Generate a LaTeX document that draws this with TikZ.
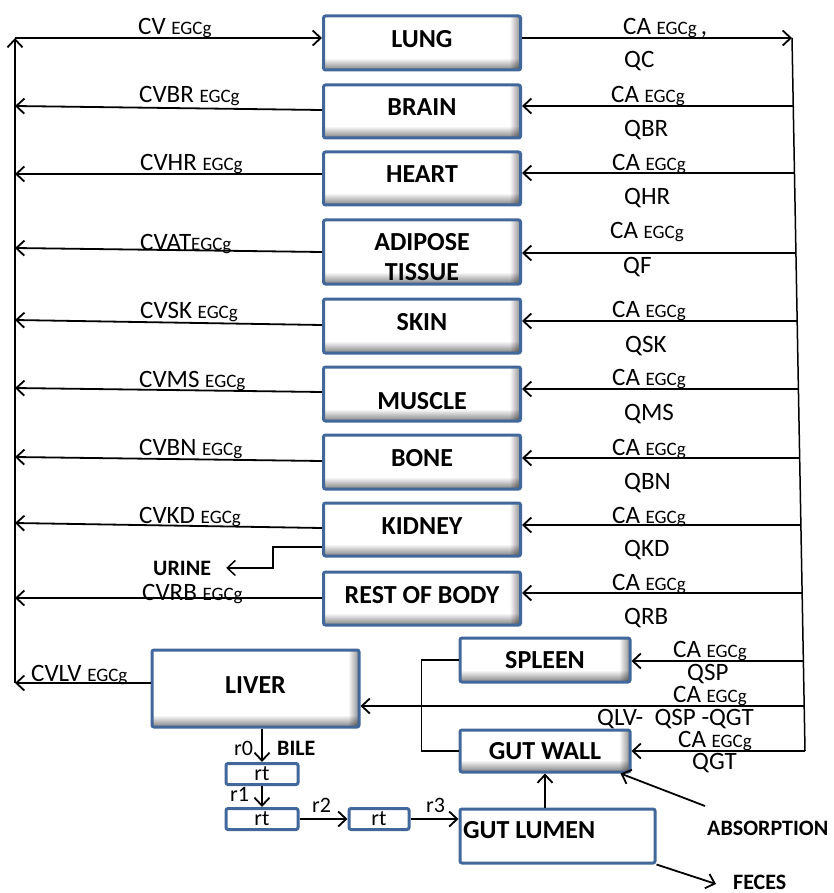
\documentclass[tikz,border=0pt]{standalone}
\usepackage{fontspec}
\setmainfont{Carlito}
\usetikzlibrary{arrows.meta}
\definecolor{boxblue}{HTML}{41679B}
\newcommand\eg{{\fontsize{19}{20}\selectfont EGCg}}
\begin{document}
\begin{tikzpicture}[x=1pt,y=-1pt,font=\fontsize{25}{28}\selectfont,
  organbase/.style={draw=boxblue,line width=3pt,rounded corners=2pt,fill=white,inner sep=0pt,
    font=\fontsize{26}{30}\selectfont\bfseries,
    path picture={
      \begin{scope}[blend mode=multiply]
      \shade[top color=white,bottom color=black!50] ([yshift=12pt]path picture bounding box.south west) rectangle (path picture bounding box.south east);
      \shade[left color=white,right color=black!45] ([xshift=-11pt]path picture bounding box.north east) rectangle (path picture bounding box.south east);
      \end{scope}}},
  organ/.style={organbase,text height=16pt,text depth=7pt},
  plainbox/.style={draw=boxblue,line width=3pt,rounded corners=2pt,fill=white,inner sep=0pt},
  conn/.style={line width=1.8pt,-{Straight Barb[length=8pt,width=15pt]}},
  link/.style={line width=1.8pt},
  lab/.style={anchor=base west,inner sep=0pt},
  blab/.style={lab,font=\fontsize{22}{24}\selectfont\bfseries},
  slab/.style={lab,font=\fontsize{22}{24}\selectfont}]
\useasboundingbox (0,0) rectangle (834,893);

% organ boxes
\node[organ,minimum width=197pt,minimum height=54pt] (lung) at (422,43) {LUNG};
\node[organ,minimum width=197pt,minimum height=53pt] (brain) at (422,111.5) {BRAIN};
\node[organ,minimum width=197pt,minimum height=53pt] (heart) at (422,178.5) {HEART};
\node[organbase,minimum width=197pt,minimum height=64pt,align=center,text height=60pt,text depth=3pt] (adipose) at (422,252) {ADIPOSE\\TISSUE};
\node[organ,minimum width=197pt,minimum height=54pt] (skin) at (422,326) {SKIN};
\node[organ,minimum width=197pt,minimum height=54pt] (muscle) at (422,394) {\raisebox{-10.5pt}{MUSCLE}};
\node[organ,minimum width=197pt,minimum height=54pt] (bone) at (422,462) {BONE};
\node[organ,minimum width=197pt,minimum height=53pt] (kidney) at (422,529.5) {KIDNEY};
\node[organ,minimum width=197pt,minimum height=53pt] (rest) at (422,598.5) {REST OF BODY};
\node[organ,minimum width=207pt,minimum height=77pt] (liver) at (255.5,688.5) {LIVER\hspace{16pt}};
\node[organbase,minimum width=170pt,minimum height=44pt] (spleen) at (545,660) {SPLEEN\hspace{20pt}};
\node[organbase,minimum width=170pt,minimum height=42pt] (gutwall) at (545,751) {GUT WALL\hspace{10pt}};
\node[plainbox,minimum width=195pt,minimum height=54pt,font=\fontsize{26}{30}\selectfont\bfseries,text height=16pt,text depth=7pt] (lumen) at (557.5,836) {\raisebox{2.5pt}{\makebox[189pt][l]{GUT LUMEN}}};
\node[plainbox,minimum width=72pt,minimum height=21pt,font=\fontsize{22}{24}\selectfont] (rt1) at (262,774) {rt};
\node[plainbox,minimum width=72pt,minimum height=21pt,font=\fontsize{22}{24}\selectfont] (rt2) at (262,819) {rt};
\node[plainbox,minimum width=60pt,minimum height=21pt,font=\fontsize{22}{24}\selectfont] (rt3) at (379,819) {rt};

% left venous line
\coordinate (LT) at (15,38);
\coordinate (LB) at (15,683);
\coordinate (lBR) at (15,106);
\coordinate (lHR) at (15,174);
\coordinate (lAT) at (15,248);
\coordinate (lSK) at (15,320);
\coordinate (lMS) at (15,388);
\coordinate (lBN) at (15,457);
\coordinate (lKD) at (15,523);
\coordinate (lRB) at (15,598);
\draw[conn] (LB) -- (LT);
\draw[conn] (LT) -- (lung.west |- LT);
\draw[conn] ([yshift=1.5pt]brain.west) -- (lBR);
\draw[conn] ([yshift=4.5pt]heart.west) -- (lHR);
\draw[conn] (adipose.west) -- (lAT);
\draw[conn] ([yshift=1pt]skin.west) -- (lSK);
\draw[conn] ([yshift=2pt]muscle.west) -- (lMS);
\draw[conn] ([yshift=1pt]bone.west) -- (lBN);
\draw[conn] ([yshift=1.5pt]kidney.west) -- (lKD);
\draw[conn] ([yshift=0.5pt]rest.west) -- (lRB);
\draw[conn] (liver.west |- LB) -- (LB);

% right arterial line
\coordinate (RT) at (792,38);
\coordinate (RB) at (805,751);
\coordinate (rBR) at (793.2,106);
\coordinate (rHR) at (794.5,173);
\coordinate (rAT) at (795.9,253);
\coordinate (rSK) at (797.2,321);
\coordinate (rMS) at (798.4,389);
\coordinate (rBN) at (799.7,458);
\coordinate (rKD) at (800.9,525);
\coordinate (rRB) at (802.1,593);
\coordinate (rSP) at (803.4,661);
\coordinate (rLV) at (804.2,706);
\draw[line width=1.5pt] (RT) -- (RB);
\draw[conn] (lung.east |- RT) -- (RT);
\draw[conn] (rBR) -- (brain.east |- rBR);
\draw[conn] (rHR) -- (heart.east |- rHR);
\draw[conn] (rAT) -- (adipose.east |- rAT);
\draw[conn] (rSK) -- (skin.east |- rSK);
\draw[conn] (rMS) -- (muscle.east |- rMS);
\draw[conn] (rBN) -- (bone.east |- rBN);
\draw[conn] (rKD) -- (kidney.east |- rKD);
\draw[conn] (rRB) -- (rest.east |- rRB);
\draw[conn] (rSP) -- (spleen.east |- rSP);
\draw[conn] (rLV) -- (liver.east |- rLV);
\draw[conn] (RB) -- (gutwall.east |- RB);

% spleen / gut wall drainage
\draw[link] (spleen.west) -- ++(-37,0) |- (gutwall.west);

% left labels
\node[lab] (tCV) at (138,35) {CV \eg};
\node[lab] (tCVBR) at (139,103) {CVBR \eg};
\node[lab] (tCVHR) at (140,171) {CVHR \eg};
\node[lab] (tCVAT) at (140,250) {CVAT\eg};
\node[lab] (tCVSK) at (140,318) {CVSK \eg};
\node[lab] (tCVMS) at (139,387) {CVMS \eg};
\node[lab] (tCVBN) at (139,455) {CVBN \eg};
\node[lab] (tCVKD) at (139,523) {CVKD \eg};
\node[lab] (tCVRB) at (142,600) {CVRB \eg};
\node[lab] (tCVLV) at (31,681) {CVLV \eg};

% right labels
\node[lab] (aLU) at (623,35) {CA \eg\,,};
\node[lab] (qLU) at (624,68) {QC};
\node[lab] (aBR) at (611,103) {CA \eg};
\node[lab] (qBR) at (624,137) {QBR};
\node[lab] (aHR) at (612,171) {CA \eg};
\node[lab] (qHR) at (624,205) {QHR};
\node[lab] (aAT) at (610,239) {CA \eg};
\node[lab] (qAT) at (623,273) {QF};
\node[lab] (aSK) at (612,317) {CA \eg};
\node[lab] (qSK) at (625,352) {QSK};
\node[lab] (aMS) at (612,385) {CA \eg};
\node[lab] (qMS) at (624,420) {QMS};
\node[lab] (aBN) at (612,455) {CA \eg};
\node[lab] (qBN) at (624,489) {QBN};
\node[lab] (aKD) at (612,523) {CA \eg};
\node[lab] (qKD) at (624,556) {QKD};
\node[lab] (aRB) at (612,590) {CA \eg};
\node[lab] (qRB) at (624,624) {QRB};
\node[lab] (aSP) at (673,657) {CA \eg};
\node[lab] (qSP) at (687,680) {QSP};
\node[lab] (aLV) at (673,702) {CA \eg};
\node[lab] (qLV) at (597,725) {QLV-\ \ QSP -QGT};
\node[lab] (aGT) at (678,747) {CA \eg};
\node[lab] (qGT) at (692,769) {QGT};

% urine
\node[blab] (urine) at (153,575) {URINE};
\draw[line width=1.5pt,-{Straight Barb[length=8pt,width=15pt]}] ([yshift=-17.5pt]kidney.west) -- ++(-49,0) |- ([xshift=15pt]urine.east);

% bile and transit
\node[blab] (bile) at (277,755) {BILE};
\node[slab] (r0) at (234,755) {r0};
\node[slab] (r1) at (230,801) {r1};
\node[slab] (r2) at (312,812) {r2};
\node[slab] (r3) at (426,812) {r3};
\draw[conn] (rt1.north |- liver.south) -- (rt1.north);
\draw[conn] (rt1.south) -- (rt2.north);
\draw[conn] (rt2.east) -- (rt3.west);
\draw[conn] (rt3.east) -- (lumen.west |- rt3.east);
\draw[conn] (gutwall.south |- lumen.north) -- (gutwall.south);

% absorption and feces
\node[blab] (absorp) at (707,835) {ABSORPTION};
\coordinate (absStart) at (705,806);
\draw[conn] (absStart) -- ([xshift=-11pt]gutwall.south east);
\node[blab] (feces) at (733,889) {FECES};
\coordinate (fecesTip) at (716,884);
\draw[conn] (lumen.south east) -- (fecesTip);
\end{tikzpicture}
\end{document}
